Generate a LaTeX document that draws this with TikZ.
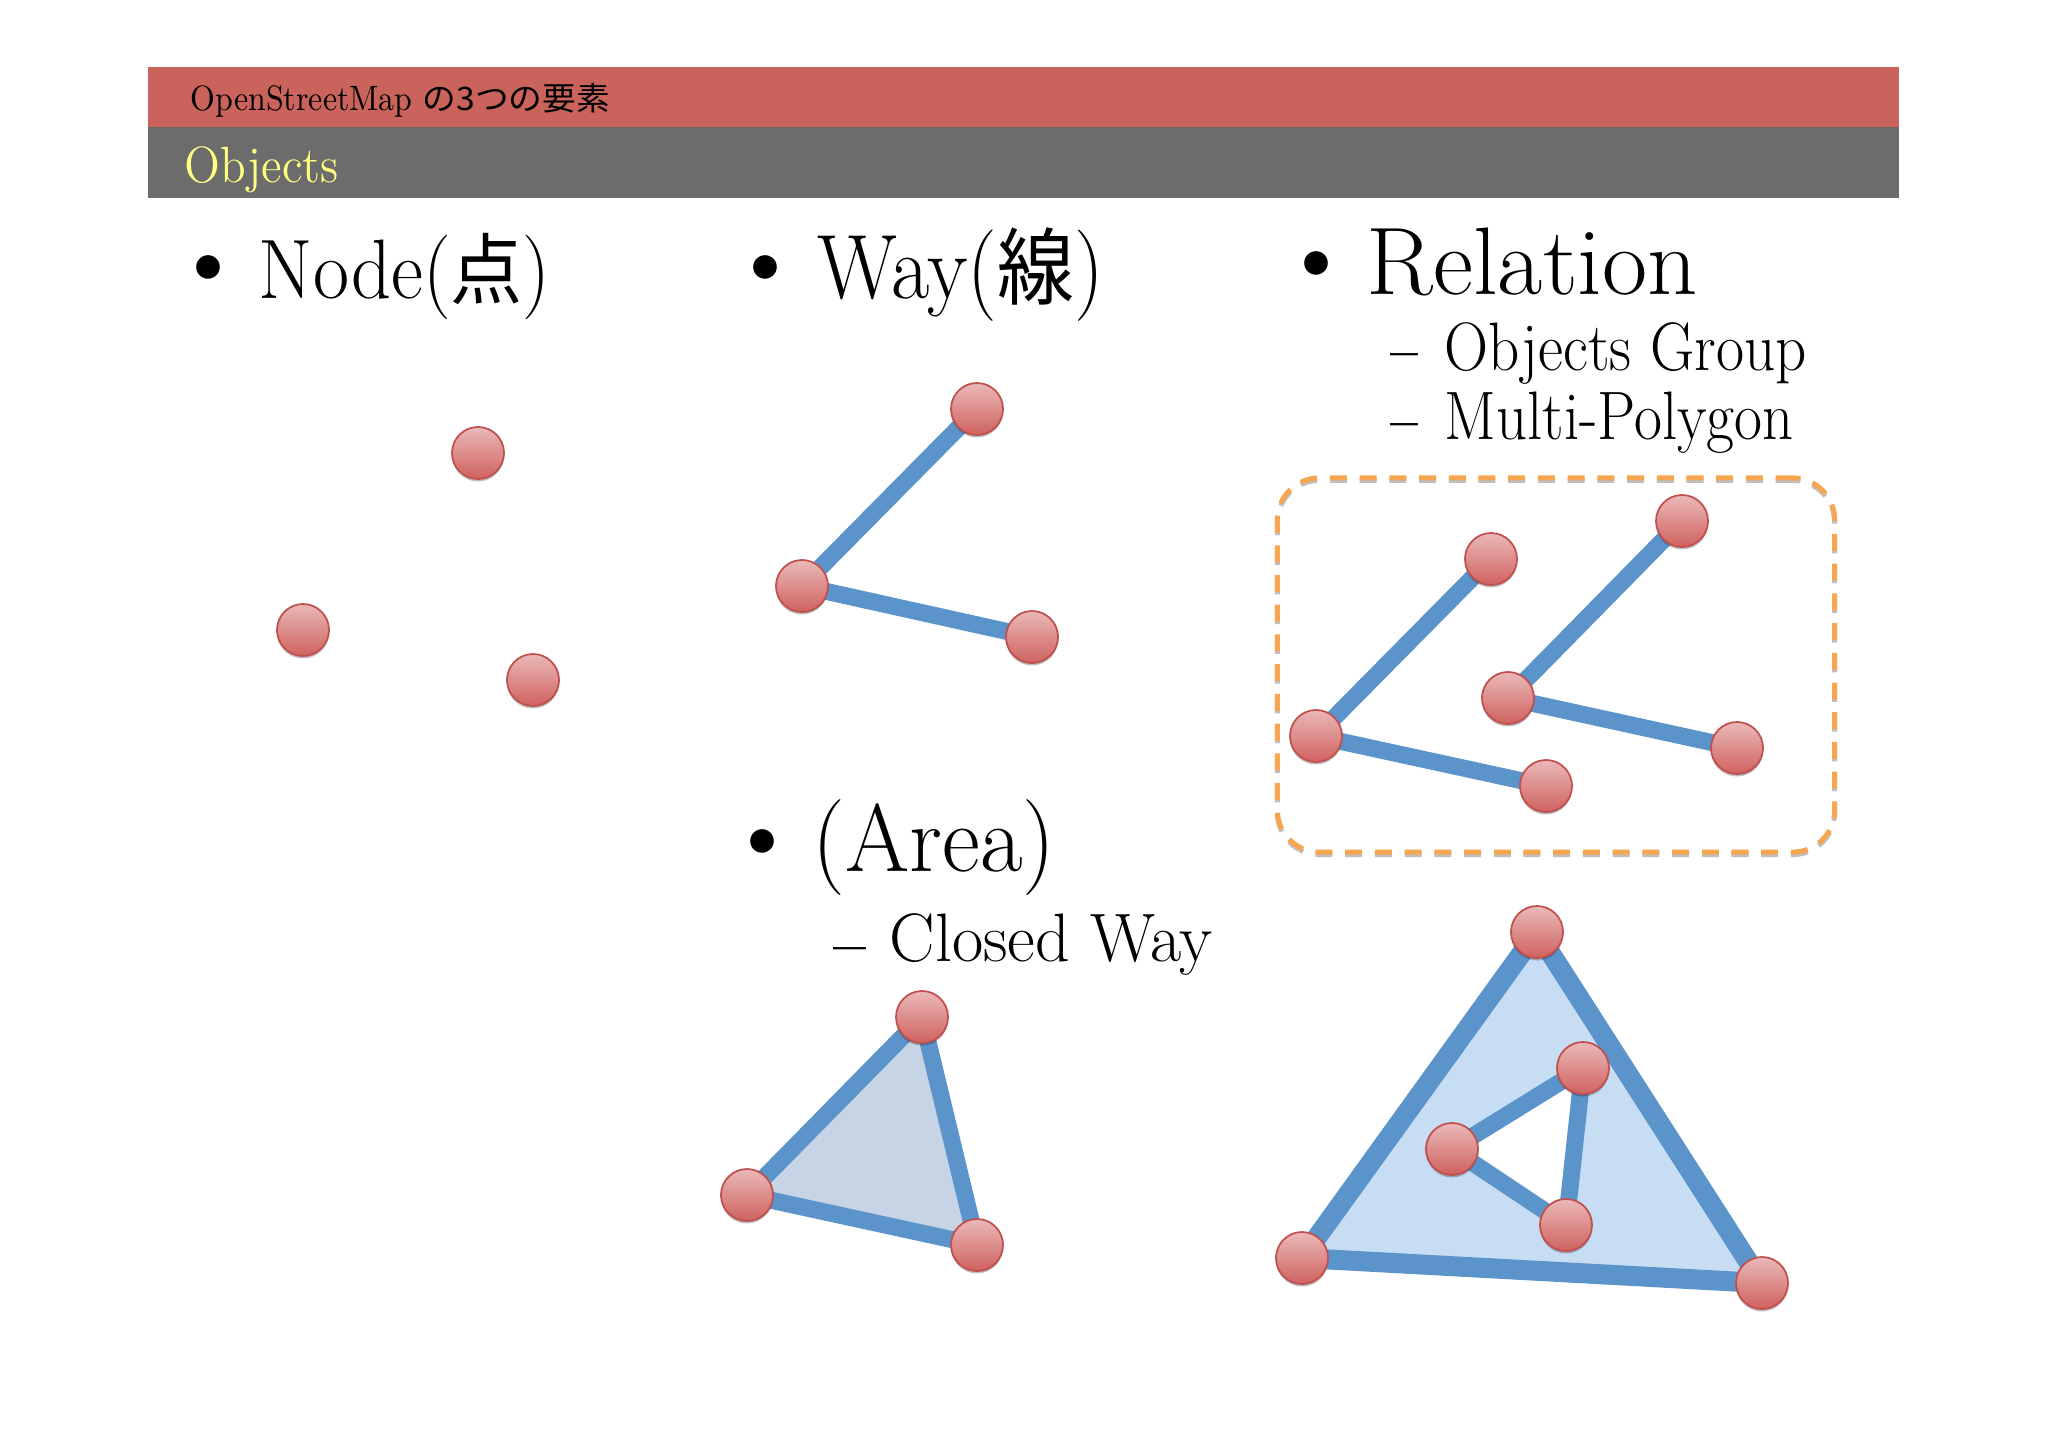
\documentclass[tikz,border=0pt]{standalone}
\usepackage{fontspec}
\usepackage{graphicx}
\usepackage{xcolor}
\usetikzlibrary{positioning}
\usetikzlibrary{backgrounds}
\usetikzlibrary{shadows}
\newfontfamily\cjk{Noto Sans CJK JP}[Scale=0.92]
\newdimen\pxu
\pxu=0.01cm
\newcommand{\fitw}[2]{\resizebox{#1\pxu}{\height}{#2}}
\definecolor{barred}{HTML}{C9635C}
\definecolor{bargray}{HTML}{6C6C6C}
\definecolor{titleyellow}{HTML}{FFFF80}
\definecolor{waycol}{HTML}{5B93CB}
\definecolor{dotline}{HTML}{C0504D}
\definecolor{dottop}{HTML}{E9B9B8}
\definecolor{dotbot}{HTML}{D0625F}
\definecolor{areacol}{HTML}{C6D4E6}
\definecolor{polycol}{HTML}{C7DDF3}
\definecolor{groupcol}{HTML}{F6A550}
\tikzset{
  osmdot/.style={circle, draw=dotline, line width=0.5pt, inner sep=0pt, minimum size=0.52cm,
    top color=dottop, bottom color=dotbot,
    drop shadow={shadow xshift=0pt, shadow yshift=-0.7pt, opacity=0.25, fill=black}},
  wayline/.style={draw=waycol, line width=0.17cm, line join=miter,
    preaction={draw=black!30, transform canvas={yshift=-0.5pt}}},
  txt/.style={anchor=base west, inner sep=0pt, text=black},
  bul/.style={inner sep=0pt, text=black, font=\fontsize{30}{30}\selectfont},
  dsh/.style={inner sep=0pt, text=black, font=\bfseries\fontsize{19.5}{19.5}\selectfont}
}
\begin{document}
\begin{tikzpicture}[x=0.01cm, y=-0.01cm]
\useasboundingbox (0,0) rectangle (2048,1447);

\fill[barred] (148,67) rectangle (1899,127);
\fill[bargray] (148,127) rectangle (1899,198);
\node[txt, font=\fontsize{10}{10}\selectfont] (head) at (190,110) {\fitw{222}{OpenStreetMap}};
\node[txt, font=\fontsize{10}{10}\selectfont] (headjp) at (422,110) {\fitw{187}{\cjk の3つの要素}};
\node[txt, text=titleyellow, font=\fontsize{14.5}{14.5}\selectfont] (title) at (184,182) {\fitw{154}{Objects}};

% bullets and texts
\node[bul] (b1) at (208,276) {\textbullet};
\node[txt, font=\fontsize{24}{24}\selectfont] (t1) at (258,298) {\fitw{292}{Node({\cjk 点})}};
\node[bul] (b2) at (765,276) {\textbullet};
\node[txt, font=\fontsize{26}{26}\selectfont] (t2) at (817,298) {\fitw{286}{Way({\cjk 線})}};
\node[bul] (b3) at (1316,272) {\textbullet};
\node[txt, font=\fontsize{27.3}{27.3}\selectfont] (t3) at (1366,294) {\fitw{331}{Relation}};
\node[dsh] (d1) at (1404,364) {\fitw{28}{\textendash}};
\node[txt, font=\fontsize{19.5}{19.5}\selectfont] (s1) at (1444,370) {\fitw{362}{Objects Group}};
\node[dsh] (d2) at (1404,434) {\fitw{28}{\textendash}};
\node[txt, font=\fontsize{19.5}{19.5}\selectfont] (s2) at (1444,439) {\fitw{349}{Multi-Polygon}};
\node[bul] (b4) at (762,850) {\textbullet};
\node[txt, font=\fontsize{27.3}{27.3}\selectfont] (t4) at (812,871) {\fitw{243}{(Area)}};
\node[dsh] (d3) at (850,957) {\fitw{33}{\textendash}};
\node[txt, font=\fontsize{19.5}{19.5}\selectfont] (s3) at (889,961) {\fitw{323}{Closed Way}};

% nodes
\node[osmdot] (pt1) at (478,453) {};
\node[osmdot] (pt2) at (303,630) {};
\node[osmdot] (pt3) at (533,680) {};

% way
\node[osmdot] (way1) at (977,409) {};
\node[osmdot] (way2) at (802,586) {};
\node[osmdot] (way3) at (1032,637) {};

% relation
\node[osmdot] (rela1) at (1491,559) {};
\node[osmdot] (rela2) at (1316,736) {};
\node[osmdot] (rela3) at (1546,786) {};
\node[osmdot] (relb1) at (1682,521) {};
\node[osmdot] (relb2) at (1508,698) {};
\node[osmdot] (relb3) at (1737,748) {};

% areas
\node[osmdot] (area1) at (922,1017) {};
\node[osmdot] (area2) at (747,1195) {};
\node[osmdot] (area3) at (977,1245) {};
\node[osmdot] (poly1) at (1537,932) {};
\node[osmdot] (poly2) at (1302,1258) {};
\node[osmdot] (poly3) at (1762,1283) {};
\node[osmdot] (hole1) at (1583,1068) {};
\node[osmdot] (hole2) at (1452,1149) {};
\node[osmdot] (hole3) at (1566,1225) {};

\begin{pgfonlayer}{background}
\node[draw=groupcol, line width=0.05cm, dash pattern=on 0.17cm off 0.127cm, rounded corners=0.42cm,
  minimum width=5.57cm, minimum height=3.74cm, inner sep=0pt,
  preaction={draw=black!25, transform canvas={yshift=-0.7pt}}] (group) at (1556,665) {};
\draw[wayline] (way1.center) -- (way2.center) -- (way3.center);
\draw[wayline] (rela1.center) -- (rela2.center) -- (rela3.center);
\draw[wayline] (relb1.center) -- (relb2.center) -- (relb3.center);
\fill[areacol] (area1.center) -- (area2.center) -- (area3.center) -- cycle;
\draw[wayline] (area1.center) -- (area2.center) -- (area3.center) -- cycle;
\fill[polycol, even odd rule] (poly1.center) -- (poly2.center) -- (poly3.center) -- cycle
  (hole1.center) -- (hole2.center) -- (hole3.center) -- cycle;
\draw[wayline, line width=0.2cm] (poly1.center) -- (poly2.center) -- (poly3.center) -- cycle;
\draw[wayline] (hole1.center) -- (hole2.center) -- (hole3.center) -- cycle;
\end{pgfonlayer}
\end{tikzpicture}
\end{document}
